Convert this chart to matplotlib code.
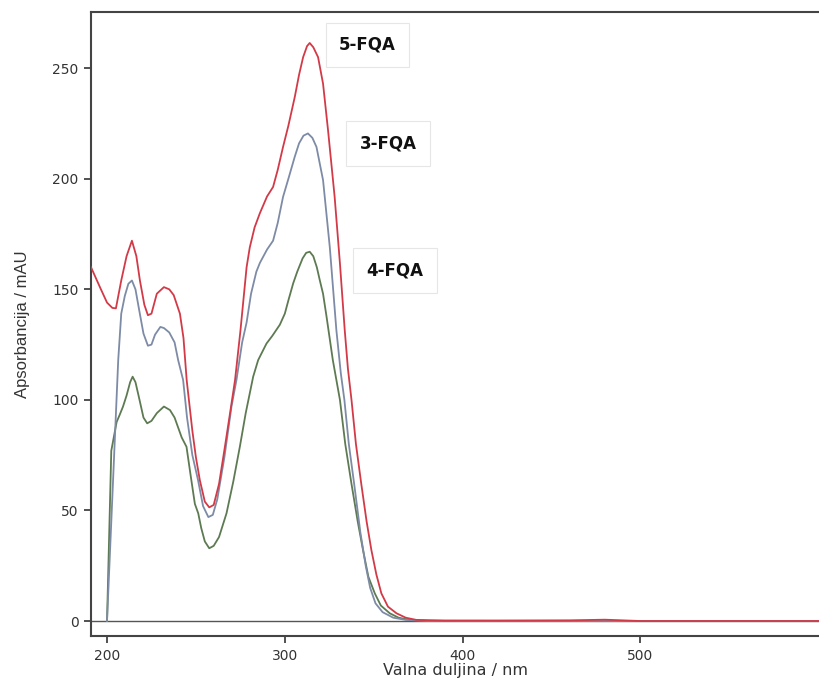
"""
UV spektri 3-, 4- i 5-FQA.
"""
import matplotlib
matplotlib.use("Agg")
import matplotlib.pyplot as plt

# 5-FQA (crvena)
wl_5 = [191, 196, 200, 203, 205, 208, 211, 214, 216.5, 218.5, 221, 223, 225, 228, 232,
        235, 237.5, 241, 243, 244.8, 248, 250, 252.2, 255, 257.5, 260, 263, 266.3, 269,
        272, 275, 278.5, 280.3, 283, 286, 290, 293.4, 296, 299, 302, 305.6, 308, 310.3,
        312.5, 314, 316, 318.7, 321.5, 324.3, 328, 331, 333.7, 335.5, 337.5, 340, 343,
        346, 348.7, 351.5, 354.3, 358, 362.8, 368, 374, 390, 420, 460, 480, 490, 500, 600]
abs_5 = [160, 151, 144, 141.6, 141.4, 154, 165, 172, 165, 154, 143, 138.3, 139, 148, 151,
         150, 147.4, 139, 128, 109, 86, 74, 63.7, 54, 51.4, 52.5, 62, 78.8, 93,
         109, 131, 160, 169, 178, 184.5, 192, 196.3, 204, 214.4, 224, 237, 247, 255,
         260, 261.4, 259.5, 255, 243, 222, 192, 161.7, 131.5, 114, 100, 80, 62,
         45, 32, 21, 12.5, 6.5, 3.5, 1.5, 0.5, 0.2, 0.2, 0.3, 0.6, 0.3, 0, 0]

# 3-FQA (plavo-siva)
wl_3 = [200, 206.3, 208, 210, 212, 214, 216, 218, 220.5, 223, 225, 227, 230, 232, 235,
        238, 240, 242.8, 245, 248, 251.2, 254, 257, 259.5, 262, 266, 270, 272.8, 276,
        278.5, 281, 284, 286, 290, 293.4, 296, 299, 302, 305.6, 308, 310.5, 313, 315.5,
        317.8, 321.5, 325.3, 329, 331.5, 333.5, 336, 339, 342.5, 345.5, 348, 351, 355,
        361, 368, 380, 600]
abs_3 = [0, 118, 139, 147, 152.5, 154, 150, 141, 130, 124.5, 125, 129.5, 133, 132.5, 130.5,
         126, 118, 109, 92, 75, 63.7, 52, 47, 48, 55, 74, 97, 109, 126,
         135, 148, 158, 162, 168, 172, 180, 191.8, 200, 210, 216, 219.5, 220.5, 218.5,
         214.4, 199.4, 169, 131.5, 112, 100, 80, 62, 40, 25, 15, 8, 4,
         1.5, 0.5, 0.1, 0]

# 4-FQA (zelena)
wl_4 = [200, 202.4, 205.4, 207, 209, 211, 213, 214.4, 216, 218, 220.5, 222.6, 225, 228,
        232, 235.4, 238, 242, 244.7, 247, 249.4, 251.3, 253, 255, 257.5, 260, 263, 267.2,
        271, 274.7, 278, 282.2, 285, 289.7, 293, 297.2, 300, 302, 304.7, 307, 310, 312,
        314, 316, 318, 319.7, 321.5, 323.4, 327, 331, 334, 337.5, 341, 344, 347, 350.6,
        354, 359, 364, 370, 380, 600]
abs_4 = [0, 77, 90, 93, 97, 102, 108, 110.5, 108, 101, 92, 89.4, 90.5, 94,
         97, 95.4, 92, 83, 78.8, 66, 53, 48.7, 42, 36, 32.9, 34, 38, 48.7,
         63, 78.8, 94, 110.5, 118, 125.5, 129, 134, 139, 145, 152.7, 158, 164, 166.5,
         167, 165, 160, 154, 148, 138, 118, 100, 80, 62, 45, 32, 20, 12.5,
         7, 3.5, 1.5, 0.5, 0.1, 0]

series = [("5-FQA", wl_5, abs_5, "#d23a48", (346.5, 260.5)),
          ("3-FQA", wl_3, abs_3, "#7d8ba6", (358, 216)),
          ("4-FQA", wl_4, abs_4, "#5d7a52", (362, 158.5))]

fig = plt.figure(figsize=(8.2, 6.81), dpi=100)
ax = fig.add_axes([0.111, 0.066, 0.889, 0.916])

ax.axhline(0, color="#555555", lw=1.0, zorder=1)
for name, x, y, c, pos in series[::-1]:
    ax.plot(x, y, color=c, lw=1.3, zorder=3)
for name, x, y, c, pos in series:
    ax.text(pos[0], pos[1], name, ha="center", va="center", fontsize=12,
            fontweight="bold", color="#111111",
            bbox=dict(boxstyle="square,pad=0.8", fc="white", ec="#e6e6e6", lw=0.8))

ax.set_xlim(191, 601)
ax.set_ylim(-6.8, 275.3)
ax.set_xticks([200, 300, 400, 500])
ax.set_yticks([0, 50, 100, 150, 200, 250])
ax.tick_params(labelsize=10, colors="#333333", length=5, width=1.2, pad=4)
for s in ["left", "bottom", "top"]:
    ax.spines[s].set_color("#444444")
    ax.spines[s].set_linewidth(1.5)
ax.spines["right"].set_visible(False)

ax.set_xlabel("Valna duljina / nm", fontsize=11.5, color="#333333", labelpad=0)
ax.set_ylabel("Apsorbancija / mAU", fontsize=12, color="#333333", labelpad=16,
              family=["Liberation Sans Narrow", "Liberation Sans", "DejaVu Sans"])

fig.savefig("out.png", dpi=100)
